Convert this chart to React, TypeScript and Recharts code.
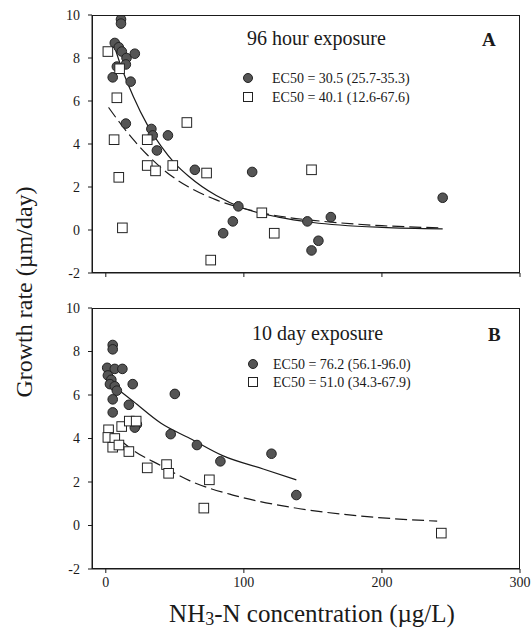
import React from 'react'
import { ComposedChart, Scatter, Line, XAxis, YAxis } from 'recharts'

// Panel A: 96 hour exposure
const a96Dots = [
  { x: 11, y: 9.8 }, { x: 11, y: 9.6 }, { x: 6.5, y: 8.7 }, { x: 9.4, y: 8.5 }, { x: 11.6, y: 8.3 },
  { x: 15, y: 8.0 }, { x: 21, y: 8.2 }, { x: 8, y: 7.6 }, { x: 14.5, y: 7.7 }, { x: 5, y: 7.1 },
  { x: 18, y: 6.9 }, { x: 14.5, y: 4.95 }, { x: 33, y: 4.7 }, { x: 34, y: 4.4 }, { x: 45, y: 4.4 },
  { x: 37, y: 3.7 }, { x: 64.5, y: 2.8 }, { x: 106, y: 2.7 }, { x: 96, y: 1.1 }, { x: 92, y: 0.4 },
  { x: 85, y: -0.15 }, { x: 146, y: 0.4 }, { x: 163, y: 0.6 }, { x: 154, y: -0.5 }, { x: 149, y: -0.95 },
  { x: 244, y: 1.5 },
]
const a96Squares = [
  { x: 1.5, y: 8.3 }, { x: 10, y: 7.5 }, { x: 8, y: 6.15 }, { x: 58.7, y: 5.0 }, { x: 6, y: 4.2 },
  { x: 30, y: 4.2 }, { x: 30, y: 3.0 }, { x: 36, y: 2.75 }, { x: 48.5, y: 3.0 }, { x: 73, y: 2.65 },
  { x: 9.4, y: 2.45 }, { x: 12, y: 0.1 }, { x: 149, y: 2.8 }, { x: 113, y: 0.8 }, { x: 122, y: -0.15 },
  { x: 76, y: -1.4 },
]
const a96FitSolid = [
  { x: 5, y: 8.8 }, { x: 10, y: 7.8 }, { x: 20, y: 6.2 }, { x: 30, y: 4.9 }, { x: 40, y: 3.9 },
  { x: 50, y: 3.1 }, { x: 60, y: 2.5 }, { x: 80, y: 1.6 }, { x: 100, y: 1.0 }, { x: 125, y: 0.6 },
  { x: 150, y: 0.35 }, { x: 200, y: 0.12 }, { x: 244, y: 0.05 },
]
const a96FitDash = [
  { x: 2, y: 5.7 }, { x: 10, y: 5.0 }, { x: 20, y: 4.2 }, { x: 30, y: 3.5 }, { x: 40, y: 2.9 },
  { x: 50, y: 2.4 }, { x: 60, y: 2.0 }, { x: 80, y: 1.4 }, { x: 100, y: 1.0 }, { x: 125, y: 0.65 },
  { x: 150, y: 0.45 }, { x: 200, y: 0.2 }, { x: 244, y: 0.1 },
]

// Panel B: 10 day exposure
const d10Dots = [
  { x: 5, y: 8.3 }, { x: 5, y: 8.1 }, { x: 1, y: 7.25 }, { x: 6.5, y: 7.2 }, { x: 12, y: 7.2 },
  { x: 1.5, y: 6.9 }, { x: 4, y: 6.7 }, { x: 3, y: 6.5 }, { x: 6.5, y: 6.4 }, { x: 8, y: 6.2 },
  { x: 19.5, y: 6.5 }, { x: 5, y: 5.8 }, { x: 16.7, y: 5.55 }, { x: 5, y: 5.2 }, { x: 22.5, y: 4.65 },
  { x: 21, y: 4.5 }, { x: 50, y: 6.05 }, { x: 47, y: 4.2 }, { x: 66, y: 3.7 }, { x: 83, y: 2.95 },
  { x: 120, y: 3.3 }, { x: 138, y: 1.4 },
]
const d10Squares = [
  { x: 2, y: 4.4 }, { x: 11.5, y: 4.55 }, { x: 17, y: 4.8 }, { x: 22, y: 4.8 }, { x: 1.5, y: 4.05 },
  { x: 6.5, y: 4.0 }, { x: 5, y: 3.6 }, { x: 9.5, y: 3.7 }, { x: 16.7, y: 3.4 }, { x: 30, y: 2.65 },
  { x: 44, y: 2.8 }, { x: 45.5, y: 2.4 }, { x: 75, y: 2.1 }, { x: 71, y: 0.8 }, { x: 243, y: -0.35 },
]
const d10FitSolid = [
  { x: 8, y: 6.3 }, { x: 20, y: 5.7 }, { x: 40, y: 4.7 }, { x: 61, y: 4.0 }, { x: 85, y: 3.2 },
  { x: 114, y: 2.6 }, { x: 138, y: 2.1 },
]
const d10FitDash = [
  { x: 2, y: 4.4 }, { x: 20, y: 3.45 }, { x: 40, y: 2.75 }, { x: 61, y: 2.05 }, { x: 92, y: 1.4 },
  { x: 133, y: 0.85 }, { x: 182, y: 0.45 }, { x: 240, y: 0.2 },
]

const yTicks = [-2, 0, 2, 4, 6, 8, 10]
const xTicks = [0, 100, 200, 300]

const legendA = ['EC50 = 30.5 (25.7-35.3)', 'EC50 = 40.1 (12.6-67.6)']
const legendB = ['EC50 = 76.2 (56.1-96.0)', 'EC50 = 51.0 (34.3-67.9)']

const SERIF = '"Liberation Serif", "DejaVu Serif", serif'
const INK = '#1a1a1a'

// layout of the two plot boxes (pixels)
const W = 532
const PLOT_LEFT = 92
const PLOT_RIGHT = 520
const A_TOP = 15, A_H = 290, A_XAXIS = 17
const B_OFFSET = 290, B_TOP = 18, B_H = 343, B_XAXIS = 64

const Dot = (props: any) => {
  const { cx, cy } = props
  if (cx == null || cy == null) return null
  return <circle cx={cx} cy={cy} r={4.8} fill="#555" stroke="#222" strokeWidth={1} />
}

const Square = (props: any) => {
  const { cx, cy } = props
  if (cx == null || cy == null) return null
  return <rect x={cx - 4.8} y={cy - 4.8} width={9.6} height={9.6} fill="#fff" stroke="#222" strokeWidth={1} />
}

function PanelLegend({ title, letter, items, x, titleY, letterX, rowY, rowGap, textX }: any) {
  return (
    <g fontFamily={SERIF} fill={INK}>
      <text x={x} y={titleY} fontSize={20}>{title}</text>
      <text x={letterX} y={titleY + 1} fontSize={19} fontWeight="bold">{letter}</text>
      {items.map((t: string, i: number) => {
        const cy = rowY + i * rowGap
        return (
          <g key={t}>
            {i === 0
              ? <circle cx={x + 1} cy={cy} r={4.5} fill="#555" stroke="#222" />
              : <rect x={x - 3.5} y={cy - 4.5} width={9} height={9} fill="#fff" stroke="#222" />}
            <text x={textX} y={cy + 5} fontSize={14}>{t}</text>
          </g>
        )
      })}
    </g>
  )
}

function Panel({ dots, squares, solid, dash, height, top, bottom, showXLabels }: any) {
  return (
    <ComposedChart width={W} height={height} margin={{ top, right: W - PLOT_RIGHT, bottom: 0, left: 0 }}>
      <XAxis
        dataKey="x"
        type="number"
        domain={[-10, 300]}
        ticks={xTicks}
        allowDataOverflow
        height={bottom}
        stroke={INK}
        tickSize={4}
        tickMargin={4}
        tick={{ fill: INK, fontSize: 14, fontFamily: SERIF }}
        tickFormatter={(v: number) => (showXLabels ? String(v) : '')}
      />
      <YAxis
        dataKey="y"
        type="number"
        domain={[-2, 10]}
        ticks={yTicks}
        allowDataOverflow
        width={PLOT_LEFT}
        stroke={INK}
        tickSize={4}
        tickMargin={8}
        tick={{ fill: INK, fontSize: 14, fontFamily: SERIF }}
      />
      <Line data={solid} dataKey="y" type="monotone" stroke={INK} strokeWidth={1.2} dot={false} isAnimationActive={false} />
      <Line data={dash} dataKey="y" type="monotone" stroke={INK} strokeWidth={1.2} strokeDasharray="12 5" dot={false} isAnimationActive={false} />
      <Scatter data={dots} dataKey="y" shape={Dot} isAnimationActive={false} />
      <Scatter data={squares} dataKey="y" shape={Square} isAnimationActive={false} />
    </ComposedChart>
  )
}

export default function App() {
  const boxes = [
    { y: A_TOP, h: A_H - A_XAXIS - A_TOP },
    { y: B_OFFSET + B_TOP, h: B_H - B_XAXIS - B_TOP },
  ]
  return (
    <div style={{ position: 'absolute', left: 0, top: 0, width: W, height: 633, background: '#fff', fontFamily: SERIF }}>
      <div style={{ position: 'absolute', left: 0, top: 0 }}>
        <Panel dots={a96Dots} squares={a96Squares} solid={a96FitSolid} dash={a96FitDash}
          height={A_H} top={A_TOP} bottom={A_XAXIS} showXLabels={false} />
      </div>
      <div style={{ position: 'absolute', left: 0, top: B_OFFSET }}>
        <Panel dots={d10Dots} squares={d10Squares} solid={d10FitSolid} dash={d10FitDash}
          height={B_H} top={B_TOP} bottom={B_XAXIS} showXLabels={true} />
      </div>
      <svg width={W} height={633} style={{ position: 'absolute', left: 0, top: 0, pointerEvents: 'none' }}>
        {boxes.map((b) => (
          <rect key={b.y} x={PLOT_LEFT + 0.5} y={b.y + 0.5} width={PLOT_RIGHT - PLOT_LEFT - 1} height={b.h - 1}
            fill="none" stroke={INK} strokeWidth={1} />
        ))}
        <PanelLegend title="96 hour exposure" letter="A" items={legendA}
          x={247} titleY={45} letterX={482} rowY={78} rowGap={19} textX={272} />
        <PanelLegend title="10 day exposure" letter="B" items={legendB}
          x={252} titleY={340} letterX={488} rowY={364} rowGap={18} textX={273} />
        <text x={24} y={292} transform="rotate(-90 24 292)" textAnchor="middle" dominantBaseline="central"
          fontFamily={SERIF} fontSize={24} fill={INK}>
          Growth rate (µm/day)
        </text>
        <text x={312} y={622} textAnchor="middle" fontFamily={SERIF} fontSize={25} fill={INK}>
          NH<tspan fontSize={18} dy={3}>3</tspan><tspan dy={-3}>-N concentration (µg/L)</tspan>
        </text>
      </svg>
    </div>
  )
}
